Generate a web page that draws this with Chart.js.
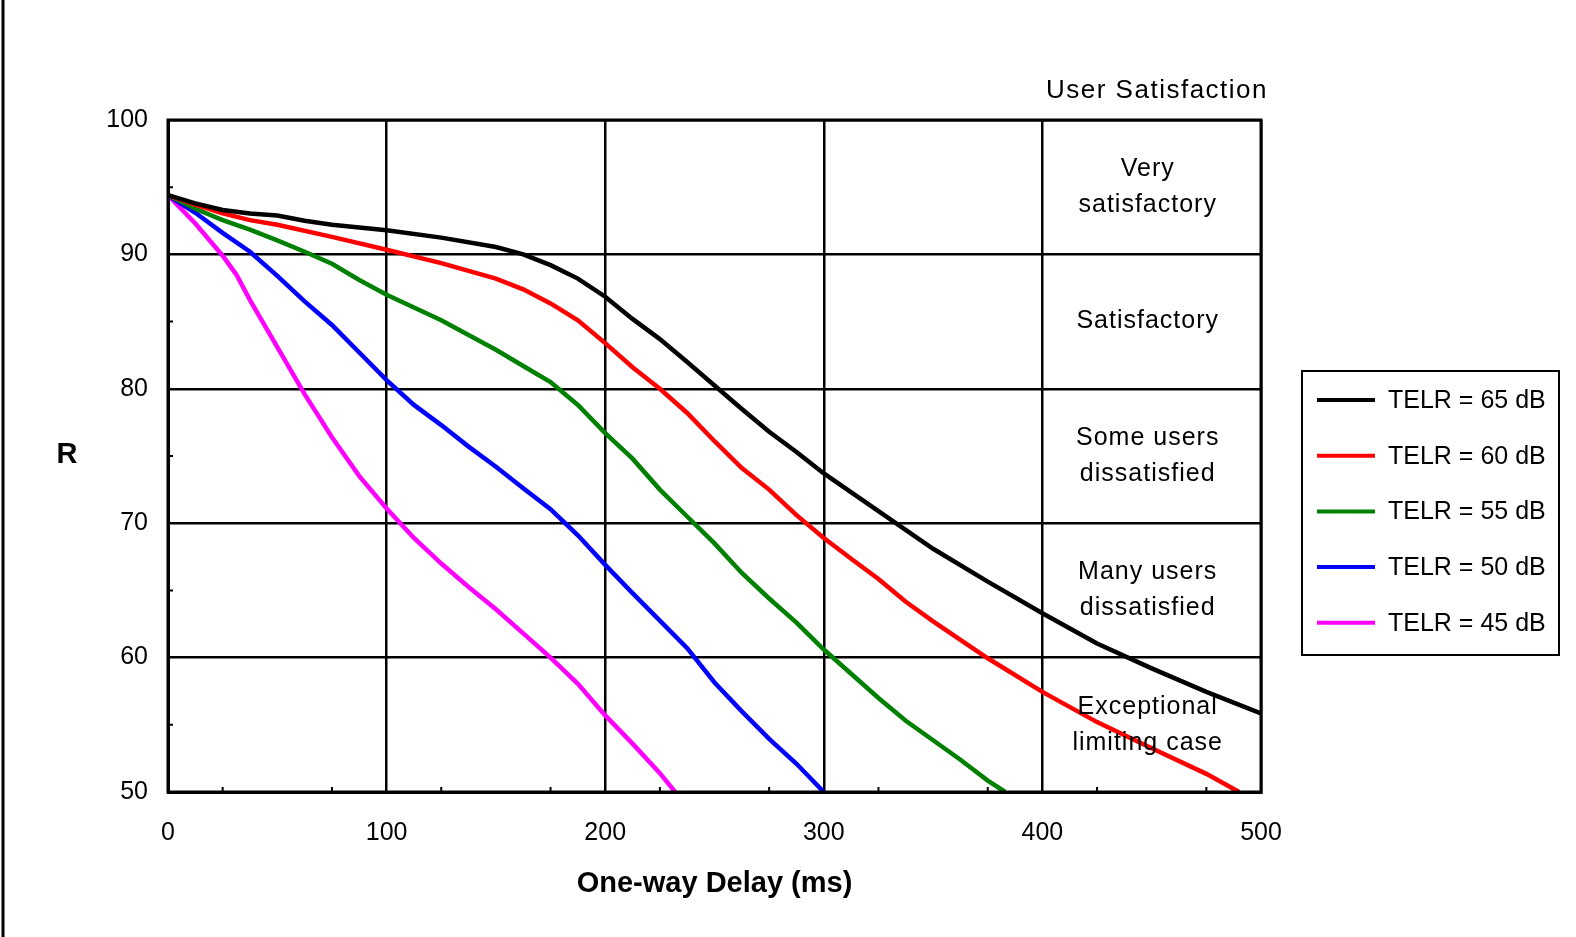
<!DOCTYPE html>
<html lang="en">
<head>
  <meta charset="utf-8">
  <script src="https://cdn.jsdelivr.net/npm/chart.js"></script>
  <style>
    html, body { margin: 0; padding: 0; background: #fff; }
    #wrap { width: 1576px; height: 937px; }
  </style>
</head>
<body>
  <div id="wrap"><canvas id="rChart"></canvas></div>

  <script>
    // R-factor vs one-way delay, one curve per TELR value
    const telr65Delay = [0, 12.5, 25, 37.5, 50, 62.5, 75, 100, 125, 150, 162.5, 175, 187.5, 200, 212.5, 225, 237.5, 250, 262.5, 275, 287.5, 300, 325, 350, 375, 400, 425, 450, 475, 500];
    const telr65R = [94.4, 93.8, 93.3, 93.05, 92.9, 92.5, 92.2, 91.8, 91.25, 90.55, 90.0, 89.2, 88.2, 86.85, 85.2, 83.7, 82.0, 80.25, 78.5, 76.8, 75.3, 73.7, 70.9, 68.1, 65.65, 63.3, 61.05, 59.2, 57.45, 55.85];

    const telr60Delay = [0, 12.5, 25, 37.5, 50, 75, 100, 125, 150, 162.5, 175, 187.5, 200, 212.5, 225, 237.5, 250, 262.5, 275, 287.5, 300, 312.5, 325, 337.5, 350, 375, 400, 425, 450, 475, 490];
    const telr60R = [94.4, 93.7, 93.05, 92.55, 92.2, 91.3, 90.35, 89.35, 88.2, 87.4, 86.35, 85.1, 83.4, 81.6, 80.0, 78.2, 76.1, 74.1, 72.5, 70.6, 68.9, 67.35, 65.85, 64.15, 62.7, 59.95, 57.45, 55.2, 53.25, 51.35, 50.0];

    const telr55Delay = [0, 12.5, 25, 37.5, 50, 62.5, 75, 87.5, 100, 125, 150, 162.5, 175, 187.5, 200, 212.5, 225, 237.5, 250, 262.5, 275, 287.5, 300, 312.5, 325, 337.5, 350, 362.5, 375, 383];
    const telr55R = [94.4, 93.4, 92.55, 91.85, 91.05, 90.2, 89.3, 88.1, 87.0, 85.1, 82.9, 81.7, 80.5, 78.8, 76.7, 74.8, 72.5, 70.5, 68.5, 66.3, 64.4, 62.6, 60.6, 58.8, 57.0, 55.3, 53.85, 52.4, 50.85, 50.0];

    const telr50Delay = [0, 12.5, 25, 37.5, 50, 62.5, 75, 87.5, 100, 112.5, 125, 137.5, 150, 162.5, 175, 187.5, 200, 212.5, 225, 237.5, 250, 262.5, 275, 287.5, 300];
    const telr50R = [94.4, 93.1, 91.6, 90.2, 88.4, 86.5, 84.75, 82.7, 80.65, 78.8, 77.3, 75.7, 74.2, 72.6, 71.05, 69.1, 66.9, 64.8, 62.75, 60.7, 58.15, 56.0, 53.95, 52.1, 50.0];

    const telr45Delay = [0, 12.5, 25, 31.25, 37.5, 50, 62.5, 75, 87.5, 100, 112.5, 125, 137.5, 150, 162.5, 175, 187.5, 200, 212.5, 225, 232];
    const telr45R = [94.4, 92.3, 89.9, 88.5, 86.6, 83.1, 79.6, 76.4, 73.5, 71.1, 68.9, 67.0, 65.25, 63.6, 61.8, 60.0, 58.05, 55.7, 53.6, 51.4, 50.0];

    const seriesLabels = ['TELR = 65 dB', 'TELR = 60 dB', 'TELR = 55 dB', 'TELR = 50 dB', 'TELR = 45 dB'];
    const seriesColors = ['#000000', '#ff0000', '#008000', '#0000ff', '#ff00ff'];

    const delayTicks = [0, 100, 200, 300, 400, 500];
    const rTicks = [50, 60, 70, 80, 90, 100];

    // satisfaction bands, listed top to bottom (one per 10 R points)
    const bandLabels = [
      ['Very', 'satisfactory'],
      ['Satisfactory'],
      ['Some users', 'dissatisfied'],
      ['Many users', 'dissatisfied'],
      ['Exceptional', 'limiting case']
    ];
    const bandTops = [100, 90, 80, 70, 60];

    const FONT = "'Liberation Sans', Arial, sans-serif";

    function toPoints(xs, ys) {
      return xs.map((x, i) => ({ x: x, y: ys[i] }));
    }

    const pairs = [
      [telr65Delay, telr65R],
      [telr60Delay, telr60R],
      [telr55Delay, telr55R],
      [telr50Delay, telr50R],
      [telr45Delay, telr45R]
    ];

    const datasets = pairs.map((p, i) => ({
      label: seriesLabels[i],
      data: toPoints(p[0], p[1]),
      borderColor: seriesColors[i],
      backgroundColor: seriesColors[i],
      borderWidth: 4.5,
      showLine: true,
      pointRadius: 0,
      tension: 0
    }));

    // frame, minor ticks, band texts, legend box and axis titles
    const extras = {
      id: 'extras',
      beforeDraw(chart) {
        const ctx = chart.ctx;
        ctx.save();
        ctx.fillStyle = '#fff';
        ctx.fillRect(0, 0, chart.width, chart.height);
        ctx.restore();
      },
      afterDraw(chart) {
        const ctx = chart.ctx;
        const a = chart.chartArea;
        const xs = chart.scales.x;
        const ys = chart.scales.y;
        ctx.save();

        // page edge on the left
        ctx.strokeStyle = '#000';
        ctx.lineWidth = 3;
        ctx.beginPath();
        ctx.moveTo(3, 0);
        ctx.lineTo(3, chart.height);
        ctx.stroke();

        // plot frame
        ctx.lineWidth = 3;
        ctx.strokeRect(a.left, a.top, a.right - a.left, a.bottom - a.top);

        // minor ticks pointing inward
        ctx.lineWidth = 2;
        ctx.beginPath();
        for (let v = 25; v < 500; v += 50) {
          const px = xs.getPixelForValue(v);
          ctx.moveTo(px, a.bottom);
          ctx.lineTo(px, a.bottom - 5);
        }
        for (let v = 55; v < 100; v += 10) {
          const py = ys.getPixelForValue(v);
          ctx.moveTo(a.left, py);
          ctx.lineTo(a.left + 5, py);
        }
        ctx.stroke();

        // satisfaction band labels in the last column
        const cx = (xs.getPixelForValue(400) + xs.getPixelForValue(500)) / 2 - 4;
        ctx.fillStyle = '#000';
        ctx.textAlign = 'center';
        ctx.textBaseline = 'middle';
        ctx.font = '25px ' + FONT;
        ctx.letterSpacing = '1px';
        bandLabels.forEach((lines, i) => {
          const mid = (ys.getPixelForValue(bandTops[i]) + ys.getPixelForValue(bandTops[i] - 10)) / 2;
          const step = 36;
          lines.forEach((t, j) => {
            const y = mid + (j - (lines.length - 1) / 2) * step;
            ctx.fillText(t, cx, y);
          });
        });

        ctx.font = '26px ' + FONT;
        ctx.letterSpacing = '1.5px';
        ctx.fillText('User Satisfaction', 1157, 91);
        ctx.letterSpacing = '0px';

        // axis titles
        ctx.font = 'bold 29px ' + FONT;
        ctx.fillText('One-way Delay (ms)', (a.left + a.right) / 2, 884);
        ctx.fillText('R', 67, 455);

        // legend box
        const lx = 1302, ly = 371, lw = 257, lh = 284;
        ctx.lineWidth = 2;
        ctx.strokeRect(lx, ly, lw, lh);
        ctx.font = '25px ' + FONT;
        ctx.textAlign = 'left';
        chart.data.datasets.forEach((ds, i) => {
          const y = 400 + i * 55.7;
          ctx.strokeStyle = ds.borderColor;
          ctx.lineWidth = 4;
          ctx.beginPath();
          ctx.moveTo(1317, y);
          ctx.lineTo(1375, y);
          ctx.stroke();
          ctx.fillStyle = '#000';
          ctx.fillText(ds.label, 1388, y + 1);
        });

        ctx.restore();
      }
    };

    new Chart(document.getElementById('rChart'), {
      type: 'scatter',
      data: { datasets: datasets },
      options: {
        responsive: true,
        maintainAspectRatio: false,
        animation: false,
        layout: { padding: { left: 0, top: 120, right: 315, bottom: 0 } },
        plugins: {
          legend: { display: false },
          tooltip: { enabled: false }
        },
        scales: {
          x: {
            type: 'linear',
            min: 0,
            max: 500,
            afterFit: s => { s.height = 145; },
            afterBuildTicks: s => { s.ticks = delayTicks.map(v => ({ value: v })); },
            grid: { color: '#000', lineWidth: 2.5, drawTicks: false },
            border: { color: '#000', width: 3 },
            ticks: { color: '#000', padding: 26, font: { family: FONT, size: 25 }, maxRotation: 0 }
          },
          y: {
            type: 'linear',
            min: 50,
            max: 100,
            afterFit: s => { s.width = 168; },
            afterBuildTicks: s => { s.ticks = rTicks.map(v => ({ value: v })); },
            grid: { color: '#000', lineWidth: 2.5, drawTicks: false },
            border: { color: '#000', width: 3 },
            ticks: { color: '#000', padding: 20, font: { family: FONT, size: 25 } }
          }
        }
      },
      plugins: [extras]
    });
  </script>
</body>
</html>
